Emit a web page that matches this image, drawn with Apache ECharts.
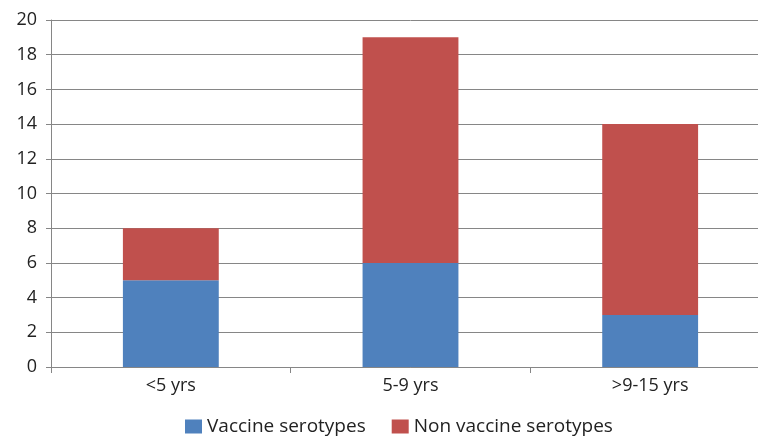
<!DOCTYPE html>
<html>
<head>
<meta charset="utf-8">
<script src="https://cdn.jsdelivr.net/npm/echarts@6/dist/echarts.min.js"></script>
<style>
  html, body { margin: 0; padding: 0; background: #fff; overflow: hidden; }
  #wrap { width: 758px; height: 443px; overflow: hidden; }
  /* the plot area runs a little past the visible right edge */
  #chart { width: 770px; height: 443px; }
</style>
</head>
<body>
<div id="wrap"><div id="chart"></div></div>
<script>
// Age groups and serotype counts
const categories = ['<5 yrs', '5-9 yrs', '>9-15 yrs'];
const vaccineSerotypes = [5, 6, 3];
const nonVaccineSerotypes = [3, 13, 11];
const seriesNames = ['Vaccine serotypes', 'Non vaccine serotypes'];
const yTicks = { min: 0, max: 20, interval: 2 };

const font = '"Open Sans", "Noto Sans", sans-serif';
const chart = echarts.init(document.getElementById('chart'), null, { renderer: 'canvas' });

chart.setOption({
  animation: false,
  backgroundColor: '#ffffff',
  grid: { left: 51, top: 20, right: 0, bottom: 76, containLabel: false },
  legend: {
    bottom: 2,
    left: 180,
    itemWidth: 17,
    itemHeight: 14,
    itemGap: 26,
    icon: 'rect',
    textStyle: { fontFamily: font, fontSize: 19, color: '#222' },
    data: seriesNames
  },
  xAxis: {
    type: 'category',
    data: categories,
    axisLine: { show: true, lineStyle: { color: '#868686', width: 1 } },
    axisTick: { show: true, length: 6, alignWithLabel: false, lineStyle: { color: '#868686' } },
    axisLabel: { margin: 10, fontFamily: font, fontSize: 18, color: '#222' }
  },
  yAxis: {
    type: 'value',
    min: yTicks.min,
    max: yTicks.max,
    interval: yTicks.interval,
    axisLine: { show: true, lineStyle: { color: '#868686', width: 1 } },
    axisTick: { show: true, length: 5, inside: false, lineStyle: { color: '#868686' } },
    axisLabel: { margin: 14, fontFamily: font, fontSize: 18, color: '#222' },
    splitLine: { show: true, lineStyle: { color: '#868686', width: 1 } }
  },
  series: [
    {
      name: seriesNames[0],
      type: 'bar',
      stack: 'total',
      barWidth: '40%',
      itemStyle: { color: '#4F81BD' },
      data: vaccineSerotypes
    },
    {
      name: seriesNames[1],
      type: 'bar',
      stack: 'total',
      barWidth: '40%',
      itemStyle: { color: '#C0504D' },
      data: nonVaccineSerotypes
    }
  ]
});
</script>
</body>
</html>
